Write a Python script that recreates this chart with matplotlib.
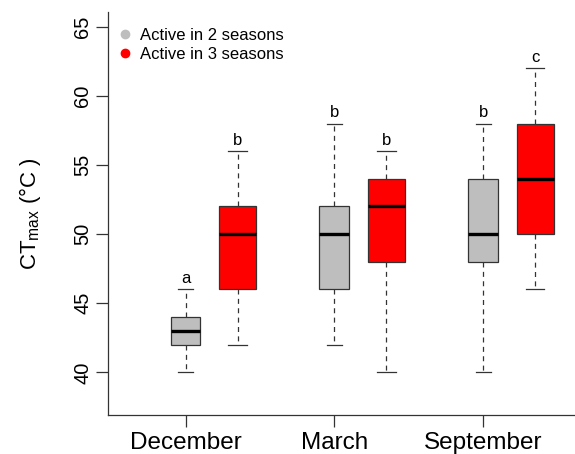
import matplotlib
matplotlib.use("Agg")
import matplotlib.pyplot as plt
from matplotlib.lines import Line2D

plt.rcParams['font.family'] = ['Liberation Sans', 'DejaVu Sans']
plt.rcParams['mathtext.default'] = 'regular'

# Datos
meses = ['December', 'March', 'September']
letras_2 = ['a', 'b', 'b']
letras_3 = ['b', 'b', 'c']

# Activos en 2 estaciones (gris)
min_2 = [40, 42, 40]
q1_2 = [42, 46, 48]
med_2 = [43, 50, 50]
q3_2 = [44, 52, 54]
max_2 = [46, 58, 58]

# Activos en 3 estaciones (rojo)
min_3 = [42, 40, 46]
q1_3 = [46, 48, 50]
med_3 = [50, 52, 54]
q3_3 = [52, 54, 58]
max_3 = [56, 56, 62]

gris = '#BEBEBE'
rojo = '#FF0000'
borde = '#333333'

fig = plt.figure(figsize=(5.75, 4.54), dpi=100)
ax = fig.add_axes([0.188, 0.086, 0.812, 0.888])

pos_2 = [1, 2, 3]
pos_3 = [p + 0.35 for p in pos_2]


def stats(mins, q1s, meds, q3s, maxs):
    return [dict(whislo=a, q1=b, med=c, q3=d, whishi=e, fliers=[])
            for a, b, c, d, e in zip(mins, q1s, meds, q3s, maxs)]


def dibujar(st, pos, ancho, color):
    ax.bxp(st, positions=pos, widths=ancho, patch_artist=True,
           showfliers=False, manage_ticks=False,
           boxprops=dict(facecolor=color, edgecolor=borde, linewidth=0.9),
           medianprops=dict(color='black', linewidth=2.4, solid_capstyle='butt'),
           whiskerprops=dict(color=borde, linewidth=0.9, linestyle=(0, (4, 3.5))),
           capprops=dict(color=borde, linewidth=0.9),
           capwidths=ancho / 2)


dibujar(stats(min_2, q1_2, med_2, q3_2, max_2), pos_2, 0.2, gris)
dibujar(stats(min_3, q1_3, med_3, q3_3, max_3), pos_3, 0.25, rojo)

for p, m, l in zip(pos_2, max_2, letras_2):
    ax.text(p, m + 0.45, l, ha='center', va='baseline', fontsize=12)
for p, m, l in zip(pos_3, max_3, letras_3):
    ax.text(p, m + 0.45, l, ha='center', va='baseline', fontsize=12)

ax.set_xlim(0.479, 3.618)
ax.set_ylim(36.92, 66.08)
ax.set_yticks([40, 45, 50, 55, 60, 65])
ax.set_xticks(pos_2)
ax.set_xticklabels(meses, fontsize=17.5)
for t in ax.get_yticklabels():
    t.set_rotation(90)
    t.set_va('center')
    t.set_fontsize(14.5)
ax.tick_params(axis='both', length=8.5, width=0.9, color=borde, pad=4)
ax.tick_params(axis='y', pad=3)

ax.spines['top'].set_visible(False)
ax.spines['right'].set_visible(False)
ax.spines['left'].set_color(borde)
ax.spines['bottom'].set_color(borde)
ax.spines['left'].set_linewidth(0.9)
ax.spines['bottom'].set_linewidth(0.9)

ax.set_ylabel('CT$_{max}$ (°C )', fontsize=16, labelpad=22)

handles = [Line2D([], [], marker='o', linestyle='none', color=gris, markersize=6),
           Line2D([], [], marker='o', linestyle='none', color=rojo, markersize=6)]
ax.legend(handles, ['Active in 2 seasons', 'Active in 3 seasons'],
          loc='upper left', bbox_to_anchor=(-0.011, 0.99), frameon=False,
          fontsize=12, handletextpad=0.3, labelspacing=0.25,
          borderaxespad=0.3, handlelength=1.2)

fig.savefig('out.png', dpi=100)
